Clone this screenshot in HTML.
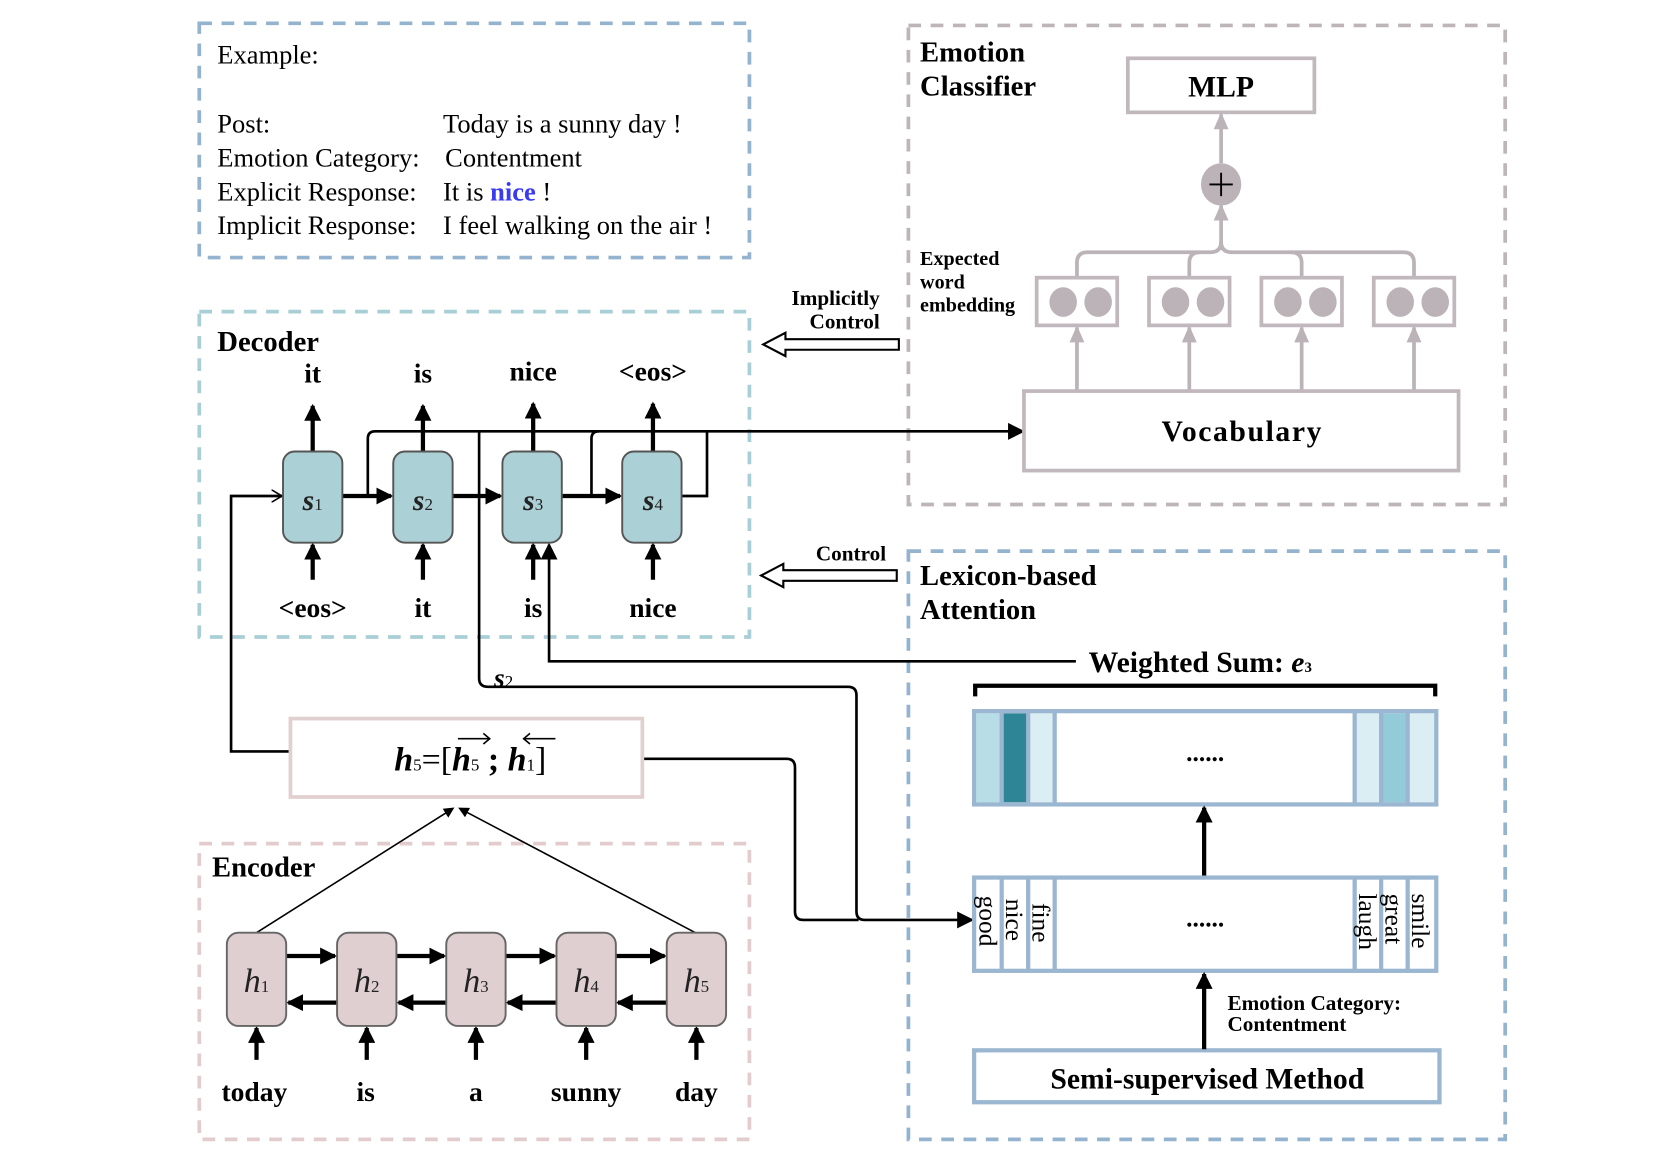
<!DOCTYPE html>
<html><head><meta charset="utf-8"><style>
html,body{margin:0;padding:0;background:#fff;width:1661px;height:1151px;overflow:hidden}
svg{display:block}
text{font-family:"Liberation Serif",serif}
.b{font-weight:bold}
</style></head><body>
<svg width="1661" height="1151" viewBox="0 0 1567 1086" preserveAspectRatio="none" xmlns="http://www.w3.org/2000/svg">
<defs>
<marker id="ah" markerWidth="10" markerHeight="10" refX="8" refY="5" orient="auto" markerUnits="userSpaceOnUse"><path d="M0,0 L10,5 L0,10 z" fill="#000"/></marker>
<marker id="ahb" markerWidth="16" markerHeight="16" refX="14" refY="8" orient="auto" markerUnits="userSpaceOnUse"><path d="M0,0 L16,8 L0,16 z" fill="#000"/></marker>
<marker id="ahg" markerWidth="16" markerHeight="16" refX="14" refY="8" orient="auto" markerUnits="userSpaceOnUse"><path d="M0,1 L16,8 L0,15 z" fill="#bbb3b7"/></marker>
<marker id="aho" markerWidth="12" markerHeight="12" refX="10" refY="6" orient="auto" markerUnits="userSpaceOnUse"><path d="M0,0 L10,6 L0,12" fill="none" stroke="#000" stroke-width="1.5"/></marker>
</defs>

<rect x="188" y="22" width="519" height="221" fill="none" stroke="#93b3cf" stroke-width="3.5" stroke-dasharray="12,9"/>
<rect x="188" y="294" width="519" height="307" fill="none" stroke="#a9cfd6" stroke-width="3.5" stroke-dasharray="12,9"/>
<rect x="857" y="24" width="563" height="452" fill="none" stroke="#bdb5b9" stroke-width="3.5" stroke-dasharray="12,9"/>
<rect x="857" y="520" width="563" height="555" fill="none" stroke="#93b3cf" stroke-width="3.5" stroke-dasharray="12,9"/>
<rect x="188" y="796" width="519" height="279" fill="none" stroke="#e2cccd" stroke-width="3.5" stroke-dasharray="12,9"/>

<g font-size="25">
<text x="205" y="60">Example:</text>
<text x="205" y="125">Post:</text><text x="418" y="125">Today is a sunny day !</text>
<text x="205" y="157">Emotion Category:</text><text x="420" y="157">Contentment</text>
<text x="205" y="189">Explicit Response:</text><text x="418" y="189">It is <tspan fill="#3a3af0" font-weight="bold">nice</tspan> !</text>
<text x="205" y="221">Implicit Response:</text><text x="418" y="221">I feel walking on the air !</text>
</g>

<text x="205" y="331" class="b" font-size="27">Decoder</text>
<g class="b" font-size="26" text-anchor="middle">
<text x="295" y="361">it</text><text x="399" y="361">is</text><text x="503" y="359">nice</text><text x="616" y="359">&lt;eos&gt;</text>
<text x="295" y="582">&lt;eos&gt;</text><text x="399" y="582">it</text><text x="503" y="582">is</text><text x="616" y="582">nice</text>
</g>
<g fill="none" stroke="#000" stroke-width="2.5">
<path d="M347,468 V414 Q347,407 354,407 H965" marker-end="url(#ahb)"/>
<path d="M452,470 V407"/>
<path d="M452,470 V640 Q452,648 460,648 H800 Q808,648 808,656 V860 Q808,868 816,868 H917" marker-end="url(#ahb)"/>
<path d="M558,468 V414 Q558,407 565,407"/>
<path d="M643,468 H667 V407"/>
<path d="M274,709 H218 V468 H266" marker-end="url(#aho)"/>
<path d="M1015,624 H518 V514" marker-end="url(#ahb)"/>
<path d="M606,716 H742 Q750,716 750,724 V860 Q750,868 758,868 H810"/>
</g>
<g fill="none" stroke="#000" stroke-width="4">
<path d="M323,468 H369" marker-end="url(#ahb)"/>
<path d="M427,468 H472" marker-end="url(#ahb)"/>
<path d="M530,468 H585" marker-end="url(#ahb)"/>
<path d="M295,426 V383" marker-end="url(#ahb)"/>
<path d="M399,426 V383" marker-end="url(#ahb)"/>
<path d="M503,426 V381" marker-end="url(#ahb)"/>
<path d="M616,426 V381" marker-end="url(#ahb)"/>
<path d="M295,547 V514" marker-end="url(#ahb)"/>
<path d="M399,547 V514" marker-end="url(#ahb)"/>
<path d="M503,547 V514" marker-end="url(#ahb)"/>
<path d="M616,547 V514" marker-end="url(#ahb)"/>
</g>
<g fill="#abd0d6" stroke="#555" stroke-width="1.8">
<rect x="267" y="426" width="56" height="86" rx="11"/>
<rect x="371" y="426" width="56" height="86" rx="11"/>
<rect x="474" y="426" width="56" height="86" rx="11"/>
<rect x="587" y="426" width="56" height="86" rx="11"/>
</g>
<g font-size="28" font-style="italic" font-weight="bold" text-anchor="middle" fill="#222">
<text x="295" y="481">s<tspan font-size="16" font-weight="normal" font-style="normal">1</tspan></text>
<text x="399" y="481">s<tspan font-size="16" font-weight="normal" font-style="normal">2</tspan></text>
<text x="503" y="481">s<tspan font-size="16" font-weight="normal" font-style="normal">3</tspan></text>
<text x="616" y="481">s<tspan font-size="16" font-weight="normal" font-style="normal">4</tspan></text>
</g>
<text x="466" y="648" font-size="26" font-style="italic" font-weight="bold">s<tspan font-size="16" font-weight="normal" font-style="normal">2</tspan></text>

<path d="M848,320 H741 V314 L720,325 L741,336 V330 H848 Z" fill="#fff" stroke="#000" stroke-width="2"/>
<path d="M846,538 H739 V532 L718,543 L739,554 V548 H846 Z" fill="#fff" stroke="#000" stroke-width="2"/>
<g class="b" font-size="20" text-anchor="end">
<text x="830" y="288">Implicitly</text><text x="830" y="310">Control</text>
<text x="836" y="529">Control</text>
</g>

<g class="b" font-size="27"><text x="868" y="58">Emotion</text><text x="868" y="90">Classifier</text></g>
<rect x="1064" y="55" width="176" height="51" fill="#fff" stroke="#c0b8bc" stroke-width="3.5"/>
<text x="1152" y="91" class="b" font-size="28" text-anchor="middle">MLP</text>
<g fill="none" stroke="#bbb3b7" stroke-width="3.5">
<path d="M1152,154 V108" marker-end="url(#ahg)"/>
<path d="M1152,236 V194" marker-end="url(#ahg)"/>
<path d="M1016,262 V248 Q1016,238 1026,238 H1142 Q1152,238 1152,228 Q1152,238 1162,238 H1324 Q1334,238 1334,248 V262"/>
<path d="M1122,262 V248 Q1122,238 1132,238"/>
<path d="M1228,262 V248 Q1228,238 1218,238"/>
<path d="M1016,369 V309" marker-end="url(#ahg)"/>
<path d="M1122,369 V309" marker-end="url(#ahg)"/>
<path d="M1228,369 V309" marker-end="url(#ahg)"/>
<path d="M1334,369 V309" marker-end="url(#ahg)"/>
</g>
<ellipse cx="1152" cy="174" rx="19" ry="20" fill="#bbb3b7"/>
<path d="M1141,174 H1163 M1152,163 V185" stroke="#000" stroke-width="1.8"/>
<g fill="#fff" stroke="#c0b8bc" stroke-width="3.5">
<rect x="978" y="262" width="76" height="45"/><rect x="1084" y="262" width="76" height="45"/>
<rect x="1190" y="262" width="76" height="45"/><rect x="1296" y="262" width="76" height="45"/>
<rect x="966" y="369" width="410" height="75"/>
</g>
<g fill="#bbb3b7">
<ellipse cx="1003" cy="285" rx="13" ry="14"/><ellipse cx="1036" cy="285" rx="13" ry="14"/>
<ellipse cx="1109" cy="285" rx="13" ry="14"/><ellipse cx="1142" cy="285" rx="13" ry="14"/>
<ellipse cx="1215" cy="285" rx="13" ry="14"/><ellipse cx="1248" cy="285" rx="13" ry="14"/>
<ellipse cx="1321" cy="285" rx="13" ry="14"/><ellipse cx="1354" cy="285" rx="13" ry="14"/>
</g>
<text x="1172" y="416" class="b" font-size="28" text-anchor="middle" letter-spacing="1.5">Vocabulary</text>
<g class="b" font-size="19"><text x="868" y="250">Expected</text><text x="868" y="272">word</text><text x="868" y="294">embedding</text></g>

<g class="b" font-size="27"><text x="868" y="552">Lexicon-based</text><text x="868" y="584">Attention</text></g>
<text x="1027" y="634" class="b" font-size="28">Weighted Sum: <tspan font-style="italic">e</tspan><tspan font-size="14">3</tspan></text>
<path d="M920,657 V647 H1354 V657" fill="none" stroke="#000" stroke-width="4"/>
<rect x="921" y="673" width="24" height="84" fill="#b7dde6"/>
<rect x="945" y="673" width="25" height="84" fill="#2e8595"/>
<rect x="970" y="673" width="25" height="84" fill="#daeef3"/>
<rect x="1278" y="673" width="25" height="84" fill="#daeef3"/>
<rect x="1303" y="673" width="25" height="84" fill="#93cbd8"/>
<rect x="1328" y="673" width="25" height="84" fill="#daeef3"/>
<g fill="none" stroke="#9ab6d0" stroke-width="4">
<rect x="919" y="671" width="436" height="88"/>
<path d="M945,671 V759 M970,671 V759 M995,671 V759 M1278,671 V759 M1303,671 V759 M1328,671 V759"/>
<rect x="919" y="828" width="436" height="88"/>
<path d="M945,828 V916 M970,828 V916 M995,828 V916 M1278,828 V916 M1303,828 V916 M1328,828 V916"/>
<rect x="919" y="991" width="439" height="49"/>
</g>
<text x="1137" y="718" font-size="24" text-anchor="middle" class="b">......</text>
<text x="1137" y="874" font-size="24" text-anchor="middle" class="b">......</text>
<g font-size="24">
<text transform="translate(924,845) rotate(90)">good</text>
<text transform="translate(949,848) rotate(90)">nice</text>
<text transform="translate(974,852) rotate(90)">fine</text>
<text transform="translate(1282,843) rotate(90)">laugh</text>
<text transform="translate(1307,843) rotate(90)">great</text>
<text transform="translate(1332,843) rotate(90)">smile</text>
</g>
<g fill="none" stroke="#000" stroke-width="4">
<path d="M1136,826 V762" marker-end="url(#ahb)"/>
<path d="M1136,990 V919" marker-end="url(#ahb)"/>
</g>
<g class="b" font-size="20"><text x="1158" y="953">Emotion Category:</text><text x="1158" y="973">Contentment</text></g>
<text x="1139" y="1027" class="b" font-size="28" text-anchor="middle">Semi-supervised Method</text>

<rect x="274" y="678" width="332" height="74" fill="#fff" stroke="#e2cfd0" stroke-width="3.5"/>
<text x="372" y="727" font-size="32" font-weight="bold" font-style="italic">h<tspan font-size="16" font-weight="normal" font-style="normal">5</tspan><tspan font-style="normal" font-weight="normal">=[</tspan>h<tspan font-size="16" font-weight="normal" font-style="normal">5</tspan><tspan font-style="normal"> ; </tspan>h<tspan font-size="16" font-weight="normal" font-style="normal">1</tspan><tspan font-style="normal" font-weight="normal">]</tspan></text>
<path d="M432,697 H462 M456,692 L462,697 L456,702" fill="none" stroke="#000" stroke-width="1.5"/>
<path d="M494,697 H524 M500,692 L494,697 L500,702" fill="none" stroke="#000" stroke-width="1.5"/>
<g fill="none" stroke="#000" stroke-width="1.5">
<path d="M242,880 L427,763" marker-end="url(#ah)"/>
<path d="M656,880 L434,763" marker-end="url(#ah)"/>
</g>
<text x="200" y="827" class="b" font-size="27">Encoder</text>
<g fill="none" stroke="#000" stroke-width="4">
<path d="M270,902 H316" marker-end="url(#ahb)"/><path d="M374,902 H419" marker-end="url(#ahb)"/>
<path d="M477,902 H523" marker-end="url(#ahb)"/><path d="M581,902 H627" marker-end="url(#ahb)"/>
<path d="M318,946 H272" marker-end="url(#ahb)"/><path d="M421,946 H376" marker-end="url(#ahb)"/>
<path d="M525,946 H479" marker-end="url(#ahb)"/><path d="M629,946 H583" marker-end="url(#ahb)"/>
<path d="M242,1000 V970" marker-end="url(#ahb)"/><path d="M346,1000 V970" marker-end="url(#ahb)"/>
<path d="M449,1000 V970" marker-end="url(#ahb)"/><path d="M553,1000 V970" marker-end="url(#ahb)"/>
<path d="M657,1000 V970" marker-end="url(#ahb)"/>
</g>
<g fill="#e0cfd0" stroke="#666" stroke-width="1.8">
<rect x="214" y="880" width="56" height="88" rx="11"/><rect x="318" y="880" width="56" height="88" rx="11"/>
<rect x="421" y="880" width="56" height="88" rx="11"/><rect x="525" y="880" width="56" height="88" rx="11"/>
<rect x="629" y="880" width="56" height="88" rx="11"/>
</g>
<g font-size="32" font-style="italic" text-anchor="middle" fill="#222">
<text x="242" y="936">h<tspan font-size="16" font-style="normal">1</tspan></text>
<text x="346" y="936">h<tspan font-size="16" font-style="normal">2</tspan></text>
<text x="449" y="936">h<tspan font-size="16" font-style="normal">3</tspan></text>
<text x="553" y="936">h<tspan font-size="16" font-style="normal">4</tspan></text>
<text x="657" y="936">h<tspan font-size="16" font-style="normal">5</tspan></text>
</g>
<g class="b" font-size="26" text-anchor="middle">
<text x="240" y="1039">today</text><text x="345" y="1039">is</text><text x="449" y="1039">a</text>
<text x="553" y="1039">sunny</text><text x="657" y="1039">day</text>
</g>
</svg>
</body></html>
